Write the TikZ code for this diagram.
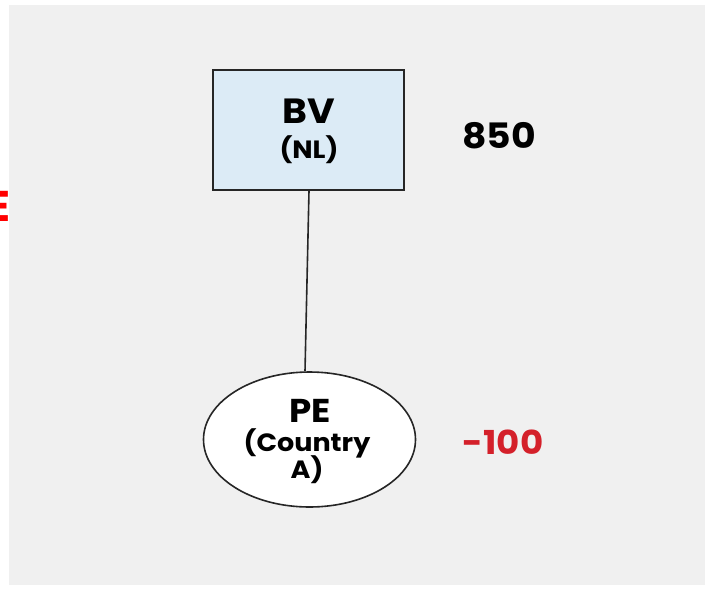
\documentclass[tikz,border=0pt]{standalone}
\usepackage{fontspec}
\setmainfont{Poppins}[UprightFont=* Bold, BoldFont=* Bold, FakeStretch=1.08]
\usetikzlibrary{shapes.geometric}
\definecolor{bggray}{HTML}{F0F0F0}
\definecolor{boxblue}{HTML}{DCEBF6}
\definecolor{numred}{HTML}{D4202A}
\tikzset{
  px/.style={x=1pt,y=-1pt},
  entity/.style={draw=black!85,line width=1.6pt,inner sep=0pt,align=center},
  amount/.style={inner sep=0pt,font=\fontsize{35}{36}\selectfont}
}
\begin{document}
\begin{tikzpicture}[px]
\useasboundingbox (0,0) rectangle (705,598);
\fill[white] (0,0) rectangle (705,598);
\fill[bggray] (9,5) rectangle (705,585);
% cut-off red letter at the left edge
\node[anchor=east,inner sep=0pt,text=red,font=\fontsize{43}{43}\selectfont] (cut) at (11,206) {E};
% BV box
\node[entity,rectangle,fill=boxblue,minimum width=191pt,minimum height=120pt] (bv) at (308.5,130) {};
\node[inner sep=0pt,font=\fontsize{35}{35}\selectfont] (bvt) at (309,111) {BV};
\node[inner sep=0pt,font=\fontsize{25}{25}\selectfont] (bvs) at (309,150) {(NL)};
% PE ellipse
\node[entity,ellipse,fill=white,minimum width=212pt,minimum height=135pt] (pe) at (309.5,439.5) {};
\node[inner sep=0pt,font=\fontsize{33}{33}\selectfont] (pet) at (310,411) {PE};
\node[inner sep=0pt,align=center,font=\fontsize{25}{25}\selectfont] (pes) at (307,456) {(Country\\[-3pt]A)};
% connector
\draw[line width=1.6pt,black!85] (bv.south) ++(0.5,0) coordinate (top) -- (pe.north -| 305,0);
% amounts
\node[amount] (a1) at (499,136) {850};
\node[amount,text=numred,font=\fontsize{33}{34}\selectfont] (a2) at (503,442) {-100};
\end{tikzpicture}
\end{document}
